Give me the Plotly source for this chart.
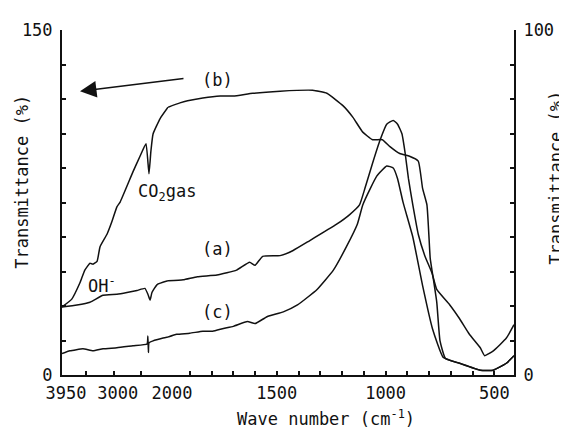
import plotly.graph_objects as go

# Wave numbers (cm^-1) and transmittance values
# Curve (b): left axis (0-150 %)
wn_b = [3950, 3770, 3620, 3530, 3435, 3380, 3305, 3250, 3120, 3030, 2940, 2880, 2645, 2515,
        2405, 2350, 2315, 2275, 2145, 2000, 1945, 1910, 1840, 1760, 1700, 1610, 1485, 1335,
        1270, 1195, 1150, 1105, 1060, 1015, 980, 935, 890, 850, 830, 810, 795, 785, 765, 750,
        725, 660, 565, 505, 445, 410]
T_b = [29.6, 33.0, 40.1, 45.6, 48.6, 48.2, 49.4, 55.8, 61.3, 66.8, 73.1, 75.2, 88.3, 95.1,
       100.6, 87.5, 97.2, 104.8, 111.5, 116.4, 118.3, 119.2, 120.4, 121.3, 121.3, 122.5, 123.4, 123.8,
       122.5, 117.0, 112.0, 105.6, 102.3, 102.3, 99.3, 96.3, 95.1, 93.0, 81.1, 73.9, 50.7, 44.4, 31.7, 14.8,
       7.2, 5.1, 2.1, 2.1, 5.1, 8.4]

# Curve (a): right axis (0-100 %)
wn_a = [3950, 3675, 3435, 3195, 2940, 2755, 2570, 2425, 2370, 2330, 2295, 2200, 2000, 1930,
        1865, 1775, 1685, 1625, 1600, 1565, 1485, 1425, 1350, 1225, 1165, 1120, 1095, 1060,
        1025, 995, 965, 945, 925, 910, 895, 875, 850, 820, 787, 765, 705, 660, 615, 565, 545,
        505, 445, 410]
T_a = [19.7, 20.3, 21.1, 23.1, 23.4, 23.9, 24.5, 25.1, 23.4, 21.7, 23.9, 26.2, 27.3, 27.6,
       28.5, 29.0, 30.4, 32.7, 31.8, 34.4, 34.6, 36.1, 38.9, 43.7, 46.5, 49.3, 54.1, 61.4,
       68.2, 72.7, 73.8, 72.7, 69.9, 64.2, 56.9, 49.3, 40.8, 34.6, 29.6, 24.8, 20.3, 16.3, 11.8, 7.9, 5.6,
       7.0, 10.7, 14.6]

# Curve (c): right axis (0-100 %)
wn_c = [3950, 3805, 3565, 3380, 3195, 2940, 2645, 2385, 2370, 2360, 2350, 2275, 2090, 2000,
        1960, 1900, 1840, 1795, 1745, 1700, 1635, 1600, 1545, 1470, 1405, 1315, 1240, 1180,
        1130, 1105, 1070, 1040, 995, 965, 945, 920, 875, 830, 785, 735, 660, 565, 505, 445, 410]
T_c = [6.2, 7.0, 7.6, 7.0, 7.6, 7.9, 8.5, 9.0, 11.3, 6.5, 9.3, 9.9, 10.7, 11.0,
       11.8, 12.1, 12.7, 12.7, 13.5, 14.1, 15.5, 14.9, 16.9, 18.3, 20.3, 24.8, 30.4, 37.2,
       43.7, 49.3, 54.1, 57.7, 60.6, 60.0, 56.9, 50.1, 40.0, 25.9, 13.5, 5.1, 3.4, 1.4, 1.4, 3.4, 5.6]

# Axis ticks
x_left_ticks = [3950, 3500, 3000, 2500, 2000]
x_left_labels = ["3950", "", "3000", "", "2000"]
x_right_ticks = [1900, 1800, 1700, 1600, 1500, 1400, 1300, 1200, 1100, 1000, 900, 800, 700, 600, 500]
x_right_labels = ["", "", "", "", "1500", "", "", "", "", "1000", "", "", "", "", "500"]
y_left_ticks = [0, 15, 30, 45, 60, 75, 90, 105, 120, 135, 150]
y_left_labels = ["0", "", "", "", "", "", "", "", "", "", "150"]
y_right_ticks = [0, 10, 20, 30, 40, 50, 60, 70, 80, 90, 100]
y_right_labels = ["0", "", "", "", "", "", "", "", "", "", "100"]

FONT = "DejaVu Sans Mono"
FS = 17
INK = "#111111"

fig = go.Figure()


def add_curve(wn, T, yax):
    left = [(w, t) for w, t in zip(wn, T) if w >= 2000]
    right = [(w, t) for w, t in zip(wn, T) if w <= 2000]
    for pts, xa in ((left, "x"), (right, "x2")):
        fig.add_trace(go.Scatter(
            x=[p[0] for p in pts], y=[p[1] for p in pts],
            xaxis=xa, yaxis=yax, mode="lines",
            line=dict(color=INK, width=1.5, shape="spline", smoothing=0.4),
            showlegend=False, hoverinfo="skip"))


add_curve(wn_b, T_b, "y")
add_curve(wn_a, T_a, "y2")
add_curve(wn_c, T_c, "y2")

axis_common = dict(showgrid=False, zeroline=False, showline=True, linecolor=INK, linewidth=2,
                   ticks="inside", ticklen=4, tickwidth=1.5, tickcolor=INK,
                   tickfont=dict(family=FONT, size=FS, color=INK), tickmode="array")

split = 106 / 452

# page body has an 8px margin, so the figure is sized 8px smaller
fig.update_layout(
    width=559, height=422,
    margin=dict(l=54, r=53, t=12, b=55),
    paper_bgcolor="white", plot_bgcolor="white",
    xaxis=dict(domain=[0, split], range=[3950, 2000], tickvals=x_left_ticks,
               ticktext=x_left_labels, anchor="y", ticklabelshift=-4,
               ticklabelstandoff=2, **axis_common),
    xaxis2=dict(domain=[split, 1], range=[2000, 410], tickvals=x_right_ticks,
                ticktext=x_right_labels, anchor="y", ticklabelstandoff=2, **axis_common),
    yaxis=dict(domain=[0, 1], range=[0, 150], tickvals=y_left_ticks, ticktext=y_left_labels,
               anchor="x", side="left", ticklabelstandoff=4, **axis_common),
    yaxis2=dict(range=[0, 100], tickvals=y_right_ticks, ticktext=y_right_labels,
                anchor="x2", overlaying="y", side="right", ticklabelstandoff=4, **axis_common),
)

txt = dict(family=FONT, size=FS, color=INK)
annos = [
    dict(text="Transmittance (%)", x=-0.0885, y=0.56, textangle=-90),
    dict(text="Transmittance (%)", x=1.093, y=0.572, textangle=-90),
    dict(text="Wave number (cm<sup>-1</sup>)", x=0.584, y=-0.125),
    dict(text="(b)", x=0.343, y=0.854),
    dict(text="(a)", x=0.343, y=0.366),
    dict(text="(c)", x=0.343, y=0.183),
    dict(text="OH<sup>-</sup>", x=0.0885, y=0.262),
    dict(text="CO<sub>2</sub>gas", x=0.232, y=0.53),
]
for a in annos:
    fig.add_annotation(xref="paper", yref="paper", showarrow=False, font=txt,
                       xanchor="center", yanchor="middle", **a)

# direction arrow pointing to the left axis
fig.add_annotation(xref="paper", yref="paper", x=0.0398, y=0.8225, ax=105, ay=-13,
                   axref="pixel", ayref="pixel", showarrow=True, text="",
                   arrowhead=2, arrowsize=2.2, arrowwidth=1.5, arrowcolor=INK)

fig.write_html("out.html")
